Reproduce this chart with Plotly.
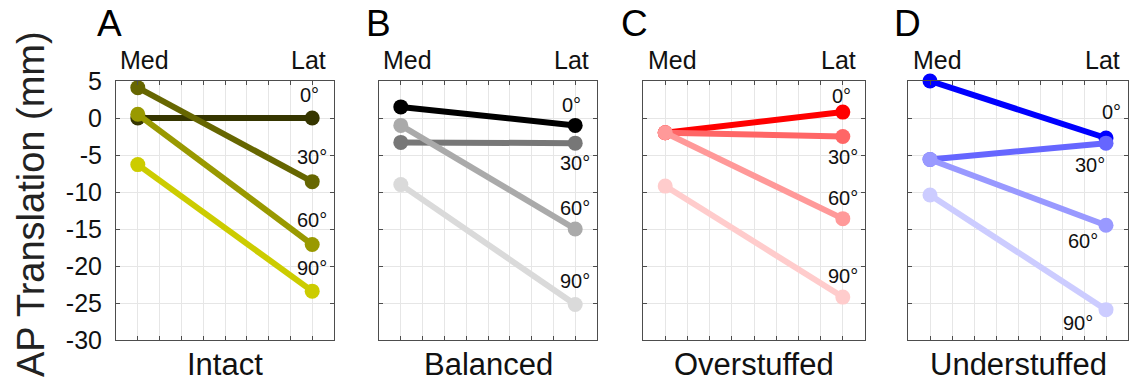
import plotly.graph_objects as go

# ---------------- data ----------------
panels = ["Intact", "Balanced", "Overstuffed", "Understuffed"]
letters = ["A", "B", "C", "D"]
angles = ["0°", "30°", "60°", "90°"]
positions = ["Med", "Lat"]
x_pos = [1, 9]

intact_med = [0.0, 4.1, 0.5, -6.3]
intact_lat = [0.0, -8.6, -17.1, -23.4]
balanced_med = [1.5, -3.3, -1.0, -9.0]
balanced_lat = [-1.0, -3.4, -15.0, -25.2]
overstuffed_med = [-2.0, -2.0, -2.0, -9.2]
overstuffed_lat = [0.8, -2.5, -13.6, -24.2]
understuffed_med = [5.0, -5.6, -5.6, -10.4]
understuffed_lat = [-2.7, -3.4, -14.5, -25.9]

y_tickvals = [5, 0, -5, -10, -15, -20, -25, -30]
y_ticktext = ["5", "0", "-5", "-10", "-15", "-20", "-25", "-30"]

# ---------------- styles ----------------
colors = [
    ["#363600", "#666600", "#999900", "#cccc00"],
    ["#000000", "#777777", "#aaaaaa", "#dadada"],
    ["#ff0000", "#ff6666", "#ff9999", "#ffcccc"],
    ["#0000ff", "#6666ff", "#9999ff", "#ccccff"],
]
# label offsets (px) relative to the Lat point
label_shift = [
    [(-3, 23), (0, 25), (0, 25), (0, 23)],
    [(-4, 20), (0, -20), (0, 21), (0, 23)],
    [(-1, 16), (0, -20), (0, 21), (0, 21)],
    [(5, 26), (-16, -22), (-23, -16), (-28, -13)],
]

W, H = 1131, 389
dom_px = [(116, 334), (379, 597), (643, 865), (908, 1128)]
top_px, bot_px = 81, 340

FONT = "Arial, Liberation Sans, sans-serif"

meds = [intact_med, balanced_med, overstuffed_med, understuffed_med]
lats = [intact_lat, balanced_lat, overstuffed_lat, understuffed_lat]

fig = go.Figure()
annotations = []

for p in range(4):
    ax = "" if p == 0 else str(p + 1)
    xa, ya = "x" + ax, "y" + ax
    for a in range(4):
        fig.add_trace(go.Scatter(
            x=x_pos, y=[meds[p][a], lats[p][a]], xaxis=xa, yaxis=ya,
            mode="lines+markers", cliponaxis=False,
            line=dict(color=colors[p][a], width=6),
            marker=dict(color=colors[p][a], size=15),
            showlegend=False, hoverinfo="skip"))
        dx, dy = label_shift[p][a]
        annotations.append(dict(
            x=x_pos[1], y=lats[p][a], xref=xa, yref=ya, text=angles[a],
            showarrow=False, xshift=dx, yshift=dy,
            xanchor="center", yanchor="middle",
            font=dict(family=FONT, size=20, color="#111111")))
    x0, x1 = dom_px[p]
    common = dict(
        showline=True, linecolor="#4d4d4d", linewidth=1, mirror="allticks",
        ticks="inside", ticklen=4, tickcolor="#4d4d4d", automargin=False,
        showgrid=True, gridcolor="#e6e6e6", gridwidth=1, zeroline=False)
    fig.update_layout(**{
        ("xaxis" + ax): dict(domain=[x0 / W, x1 / W], range=[0, 10],
                             tickvals=list(range(1, 10)), showticklabels=False,
                             anchor=ya, **common),
        ("yaxis" + ax): dict(domain=[1 - bot_px / H, 1 - top_px / H], range=[-30, 5],
                             tickvals=y_tickvals, ticktext=y_ticktext,
                             showticklabels=(p == 0), ticklabelstandoff=8,
                             tickfont=dict(family=FONT, size=25, color="#111111"),
                             anchor=xa, **common),
    })
    # Med / Lat labels
    for lbl, xv, sh in zip(positions, x_pos, [7, -4]):
        annotations.append(dict(
            x=xv, y=1 - 60 / H, xref=xa, yref="paper", text=lbl, showarrow=False,
            xshift=sh, xanchor="center", yanchor="middle",
            font=dict(family=FONT, size=25, color="#111111")))
    # bottom title
    annotations.append(dict(
        x=(x0 + x1) / 2 / W, y=1 - 364 / H, xref="paper", yref="paper",
        text=panels[p], showarrow=False, xanchor="center", yanchor="middle",
        font=dict(family=FONT, size=31, color="#111111")))

# panel letters
for L, cx in zip(letters, [109, 378, 634, 907]):
    annotations.append(dict(
        x=cx / W, y=1 - 23 / H, xref="paper", yref="paper", text=L,
        showarrow=False, xanchor="center", yanchor="middle",
        font=dict(family=FONT, size=37, color="#000000")))

# y-axis title
annotations.append(dict(
    x=31 / W, y=1 - 204 / H, xref="paper", yref="paper",
    text="AP Translation (mm)", textangle=-90, showarrow=False,
    xanchor="center", yanchor="middle",
    font=dict(family=FONT, size=38, color="#222222")))

fig.update_layout(
    width=W, height=H, margin=dict(l=0, r=0, t=0, b=0, autoexpand=False),
    paper_bgcolor="white", plot_bgcolor="white",
    annotations=annotations)

fig.write_html("out.html")
